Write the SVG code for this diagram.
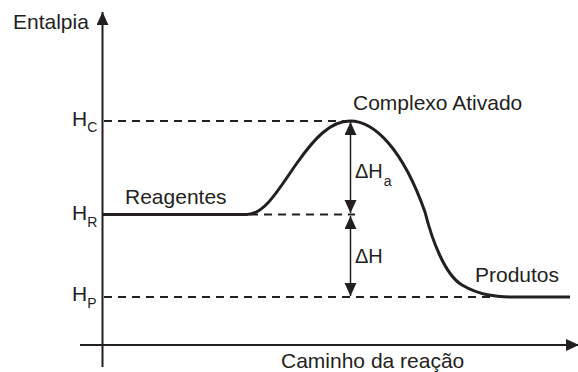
<svg xmlns="http://www.w3.org/2000/svg" width="578" height="372" viewBox="0 0 578 372">
<style>
text{font-family:"Liberation Sans",Arial,sans-serif;font-size:21px;fill:#231f20}
.sub{font-size:14px}
.ax{stroke:#231f20;stroke-width:2;fill:none}
.dash{stroke:#231f20;stroke-width:1.8;stroke-dasharray:8 6;fill:none}
.curve{stroke:#231f20;stroke-width:3;fill:none;stroke-linejoin:round}
.dim{stroke:#231f20;stroke-width:1.5;fill:none}
</style>
<defs>
<marker id="ah" markerUnits="userSpaceOnUse" markerWidth="14" markerHeight="14" refX="13" refY="6" orient="auto-start-reverse">
<path d="M0,0 L13,6 L0,12 z" fill="#231f20"/>
</marker>
</defs>
<rect width="578" height="372" fill="#ffffff"/>
<g id="axes">
<line class="ax" x1="102.5" y1="367" x2="102.5" y2="12" marker-end="url(#ah)"/>
<line class="ax" x1="80" y1="345" x2="579" y2="345" marker-end="url(#ah)"/>
<text x="13" y="29">Entalpia</text>
<text x="281" y="368">Caminho da reação</text>
</g>
<g id="levels">
<line class="dash" x1="104" y1="121" x2="348" y2="121"/>
<line class="dash" x1="250" y1="214.5" x2="355" y2="214.5"/>
<line class="dash" x1="104" y1="297" x2="490" y2="297"/>
<text x="72" y="125.5">H<tspan class="sub" dy="6.5">C</tspan></text>
<text x="72" y="220">H<tspan class="sub" dy="7">R</tspan></text>
<text x="72" y="301">H<tspan class="sub" dy="7">P</tspan></text>
</g>
<g id="curve">
<path class="curve" d="M103,214.5 L247,214.5 C265,214.5 280,187 297,163 C314,139 330,121 350,121 C375,121 403,150 425,212 C432,240 445,275 462,285 C479,295 495,297 515,297 L570,297"/>
</g>
<g id="reagentes"><text x="125" y="204">Reagentes</text></g>
<g id="complexo"><text x="353" y="110">Complexo Ativado</text></g>
<g id="produtos"><text x="475" y="282">Produtos</text></g>
<g id="connectors">
<line class="dim" x1="350.5" y1="122" x2="350.5" y2="213" marker-start="url(#ah)" marker-end="url(#ah)"/>
<line class="dim" x1="350.5" y1="216" x2="350.5" y2="296" marker-start="url(#ah)" marker-end="url(#ah)"/>
</g>
<g id="dHa"><text x="355" y="178" style="font-size:20px">ΔH<tspan class="sub" dy="8" dx="1">a</tspan></text></g>
<g id="dH"><text x="355" y="263" style="font-size:20px">ΔH</text></g>
</svg>
